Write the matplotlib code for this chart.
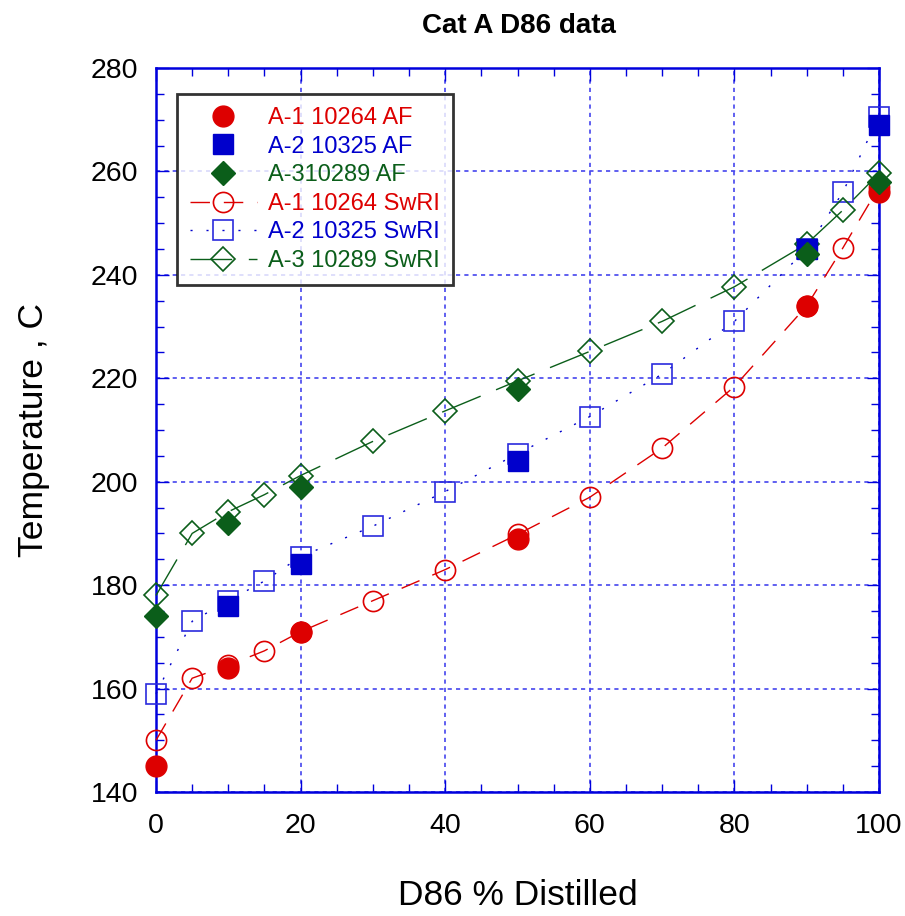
import matplotlib
matplotlib.use("Agg")
import matplotlib.pyplot as plt
from matplotlib.ticker import MultipleLocator

plt.rcParams['font.family'] = ['Liberation Sans', 'DejaVu Sans']

# ---- data ----
a1_af_x = [0, 10, 20, 50, 90, 100]
a1_af_y = [145, 164, 171, 189, 234, 256]
a2_af_x = [10, 20, 50, 90, 100]
a2_af_y = [176, 184, 204, 245, 269]
a3_af_x = [0, 10, 20, 50, 90, 100]
a3_af_y = [174, 192, 199, 218, 244, 258]

sw_x = [0, 5, 10, 15, 20, 30, 40, 50, 60, 70, 80, 90, 95, 100]
a1_sw = [150, 162, 164.5, 167.3, 171, 177, 183, 189.8, 197, 206.5, 218.4, 234, 245.2, 257]
a2_sw = [159, 173, 177, 180.8, 185.5, 191.4, 198.1, 205.4, 212.6, 220.8, 231, 245, 256, 270.6]
a3_sw = [178, 190, 194.2, 197.5, 201.2, 207.8, 213.7, 219.5, 225.2, 231, 237.7, 246, 252.5, 259.6]

labels = ["A-1 10264 AF", "A-2 10325 AF", "A-310289 AF",
          "A-1 10264 SwRI", "A-2 10325 SwRI", "A-3 10289 SwRI"]

red = '#DD0000'
blue = '#0000CC'
green = '#0B5E1A'

fig = plt.figure(figsize=(9.05, 9.16), dpi=100)
ax = fig.add_axes([156/905, 1-792/916, 723/905, 724/916])

# SwRI lines with open markers
l4, = ax.plot(sw_x, a1_sw, color=red, lw=1, dashes=(14, 10), marker='o', ms=14.5,
              mfc='none', mec=red, mew=1.2, label=labels[3], zorder=3, clip_on=False)
l5, = ax.plot(sw_x, a2_sw, color=blue, lw=1, dashes=(1.5, 10), marker='s', ms=14.5,
              mfc='none', mec='#2b2bdd', mew=1.2, label=labels[4], zorder=3, clip_on=False)
l6, = ax.plot(sw_x, a3_sw, color=green, lw=1, dashes=(30, 12), marker='D', ms=12,
              mfc='none', mec=green, mew=1.2, label=labels[5], zorder=3, clip_on=False)

# AF filled markers
l1, = ax.plot(a1_af_x, a1_af_y, ls='none', marker='o', ms=15, color=red, mec=red,
              label=labels[0], zorder=4, clip_on=False)
l2, = ax.plot(a2_af_x, a2_af_y, ls='none', marker='s', ms=15, color=blue, mec=blue,
              label=labels[1], zorder=4, clip_on=False)
l3, = ax.plot(a3_af_x, a3_af_y, ls='none', marker='D', ms=12, color=green, mec=green,
              label=labels[2], zorder=5, clip_on=False)

ax.set_xlim(0, 100)
ax.set_ylim(140, 280)
ax.xaxis.set_major_locator(MultipleLocator(20))
ax.xaxis.set_minor_locator(MultipleLocator(5))
ax.yaxis.set_major_locator(MultipleLocator(20))
ax.yaxis.set_minor_locator(MultipleLocator(5))

ax.grid(True, which='major', color='#4444EE', ls=(0, (2.5, 2.5)), lw=1.2)
for s in ax.spines.values():
    s.set_color('#0000DD')
    s.set_linewidth(1.8)

ax.tick_params(which='both', direction='in', top=True, right=True, color='#0000DD',
               labelsize=20.5)
ax.tick_params(axis='x', which='major', pad=15)
ax.tick_params(axis='y', which='major', pad=13)
ax.tick_params(which='major', length=9, width=1)
ax.tick_params(which='minor', length=6, width=1)

fig.text(518/905, 1-905/916, 'D86 % Distilled', ha='center', va='baseline', fontsize=25.5)
fig.text(33/905, 0.5*(2-792/916-68/916), 'Temperature , C', ha='center', va='center',
         rotation=90, fontsize=25.5)
fig.text(519/905, 1-33/916, 'Cat A D86 data', ha='center', va='baseline', fontsize=20,
         fontweight='bold')

leg = ax.legend(handles=[l1, l2, l3, l4, l5, l6], loc='upper left',
                bbox_to_anchor=(0.029, 0.964), borderaxespad=0, fontsize=17,
                handlelength=2.84, labelspacing=0.28, frameon=True, fancybox=False,
                borderpad=0.55, handletextpad=0.47)
leg.get_frame().set_edgecolor('black')
leg.get_frame().set_linewidth(2)
for t, c in zip(leg.get_texts(), [red, blue, green, red, blue, green]):
    t.set_color(c)
leg.set_zorder(10)

fig.savefig('out.png', dpi=100)
